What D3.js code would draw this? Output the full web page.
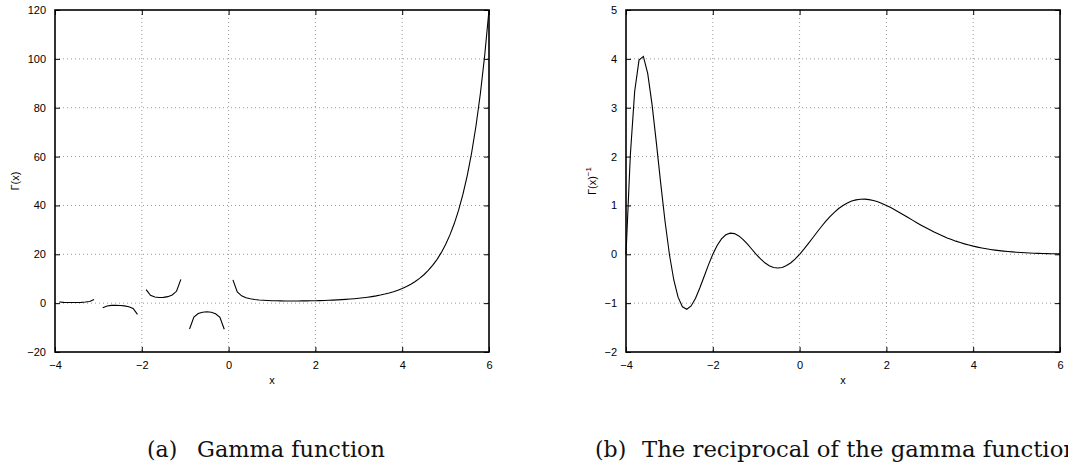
<!DOCTYPE html>
<html>
<head>
<meta charset="utf-8">
<style>
  body { margin: 0; background: #fff; }
  svg { display: block; }
  .tick text { font-family: "Liberation Sans", Arial, sans-serif; font-size: 11px; fill: #000; }
  .lab { font-family: "Liberation Sans", Arial, sans-serif; font-size: 11px; fill: #000; }
  .cap { font-family: "DejaVu Serif", "Liberation Serif", serif; font-size: 22px; fill: #111; }
</style>
<script src="https://cdn.jsdelivr.net/npm/d3@7"></script>
</head>
<body>
<svg id="fig" width="1068" height="468"></svg>
<script>
// sample points x = -4 : 0.1 : 6
var xs = [-4,-3.9,-3.8,-3.7,-3.6,-3.5,-3.4,-3.3,-3.2,-3.1,
  -3,-2.9,-2.8,-2.7,-2.6,-2.5,-2.4,-2.3,-2.2,-2.1,
  -2,-1.9,-1.8,-1.7,-1.6,-1.5,-1.4,-1.3,-1.2,-1.1,
  -1,-0.9,-0.8,-0.7,-0.6,-0.5,-0.4,-0.3,-0.2,-0.1,
  0,0.1,0.2,0.3,0.4,0.5,0.6,0.7,0.8,0.9,
  1,1.1,1.2,1.3,1.4,1.5,1.6,1.7,1.8,1.9,
  2,2.1,2.2,2.3,2.4,2.5,2.6,2.7,2.8,2.9,
  3,3.1,3.2,3.3,3.4,3.5,3.6,3.7,3.8,3.9,
  4,4.1,4.2,4.3,4.4,4.5,4.6,4.7,4.8,4.9,
  5,5.1,5.2,5.3,5.4,5.5,5.6,5.7,5.8,5.9,6];

// gamma(x) values, null at the poles (curve breaks there)
var gammaVals = [null,0.492,0.2996,0.2516,0.2469,0.2701,0.3259,0.4385,0.6891,1.4923,
  null,-1.9186,-1.1386,-0.9311,-0.8889,-0.9453,-1.108,-1.447,-2.205,-4.626,
  null,5.564,3.188,2.514,2.311,2.3633,2.659,3.328,4.851,9.715,
  null,-10.571,-5.739,-4.274,-3.697,-3.5449,-3.723,-4.327,-5.821,-10.686,
  null,9.5135,4.5908,2.9916,2.2182,1.7725,1.4892,1.2981,1.1642,1.0686,
  1,0.9514,0.9182,0.8975,0.8873,0.8862,0.8935,0.9086,0.9314,0.9618,
  1,1.0465,1.1018,1.1667,1.2422,1.3293,1.4296,1.5446,1.6765,1.8274,
  2,2.1976,2.424,2.6834,2.9813,3.3234,3.717,4.1704,4.6942,5.2995,
  6,6.8126,7.7568,8.8552,10.136,11.632,13.381,15.431,17.838,20.668,
  24,27.932,32.579,38.077,44.599,52.343,61.553,72.527,85.622,101.27,120];

// 1/gamma(x) values
var recipVals = [0,2.033,3.338,3.975,4.05,3.702,3.068,2.28,1.451,0.67,
  0,-0.521,-0.878,-1.074,-1.125,-1.058,-0.903,-0.691,-0.454,-0.216,
  0,0.18,0.314,0.398,0.433,0.423,0.376,0.3,0.206,0.103,
  0,-0.0946,-0.174,-0.234,-0.27,-0.282,-0.269,-0.231,-0.172,-0.0936,
  0,0.105,0.218,0.334,0.451,0.564,0.672,0.77,0.859,0.936,
  1,1.051,1.089,1.114,1.127,1.128,1.119,1.101,1.074,1.04,
  1,0.956,0.908,0.857,0.805,0.752,0.699,0.647,0.596,0.547,
  0.5,0.455,0.413,0.373,0.335,0.301,0.269,0.24,0.213,0.189,
  0.1667,0.1468,0.1289,0.1129,0.0987,0.086,0.0747,0.0648,0.0561,0.0484,
  0.0417,0.0358,0.0307,0.0263,0.0224,0.0191,0.0162,0.0138,0.0117,0.0099,0.0083];

var xTicks = [-4,-2,0,2,4,6];
var yTicksA = [-20,0,20,40,60,80,100,120];
var yTicksB = [-2,-1,0,1,2,3,4,5];

var svg = d3.select("#fig");
var minus = function(d){ return String(d).replace("-", "\u2212"); };

function panel(left, right, top, bottom, yDomain, yTicks, vals) {
  var x = d3.scaleLinear().domain([-4, 6]).range([left, right]);
  var y = d3.scaleLinear().domain(yDomain).range([bottom, top]);
  var g = svg.append("g");

  // dotted grid
  g.selectAll(".gx").data(xTicks.slice(1, -1)).enter().append("line")
    .attr("x1", x).attr("x2", x).attr("y1", top).attr("y2", bottom)
    .attr("stroke", "#999").attr("stroke-width", 1).attr("stroke-dasharray", "1,3");
  g.selectAll(".gy").data(yTicks.slice(1, -1)).enter().append("line")
    .attr("y1", y).attr("y2", y).attr("x1", left).attr("x2", right)
    .attr("stroke", "#999").attr("stroke-width", 1).attr("stroke-dasharray", "1,3");

  // axes with inward ticks on all sides
  g.append("g").attr("transform", "translate(0," + bottom + ")")
    .call(d3.axisBottom(x).tickValues(xTicks).tickSizeInner(-5).tickSizeOuter(0).tickPadding(9).tickFormat(minus));
  g.append("g").attr("transform", "translate(0," + top + ")")
    .call(d3.axisTop(x).tickValues(xTicks).tickSizeInner(-5).tickSizeOuter(0).tickFormat(""));
  g.append("g").attr("transform", "translate(" + left + ",0)")
    .call(d3.axisLeft(y).tickValues(yTicks).tickSizeInner(-5).tickSizeOuter(0).tickPadding(9).tickFormat(minus));
  g.append("g").attr("transform", "translate(" + right + ",0)")
    .call(d3.axisRight(y).tickValues(yTicks).tickSizeInner(-5).tickSizeOuter(0).tickFormat(""));
  g.selectAll(".domain").remove();
  g.selectAll(".tick line").attr("stroke", "#000");
  g.selectAll(".tick text").attr("fill", "#000");

  g.append("rect").attr("x", left).attr("y", top)
    .attr("width", right - left).attr("height", bottom - top)
    .attr("fill", "none").attr("stroke", "#000").attr("stroke-width", 1.6);

  var line = d3.line()
    .defined(function(d, i){ return vals[i] !== null; })
    .x(function(d){ return x(d); })
    .y(function(d, i){ return y(vals[i]); });
  g.append("path").datum(xs).attr("d", line)
    .attr("fill", "none").attr("stroke", "#000").attr("stroke-width", 1.1);

  g.append("text").attr("class", "lab").attr("x", (left + right) / 2)
    .attr("y", 384).attr("text-anchor", "middle").text("x");
  return g;
}

var ga = panel(55, 489, 10, 352, [-20, 120], yTicksA, gammaVals);
ga.append("text").attr("class", "lab")
  .attr("transform", "translate(19,181) rotate(-90)")
  .attr("text-anchor", "middle").text("\u0393(x)");

var gb = panel(626, 1060, 10, 352, [-2, 5], yTicksB, recipVals);
var yl = gb.append("text").attr("class", "lab")
  .attr("transform", "translate(596,181) rotate(-90)")
  .attr("text-anchor", "middle");
yl.append("tspan").text("\u0393(x)");
yl.append("tspan").attr("dy", -5).attr("font-size", "8px").text("\u22121");

// sub-captions
svg.append("text").attr("class", "cap").attr("x", 147).attr("y", 457).text("(a)");
svg.append("text").attr("class", "cap").attr("x", 197).attr("y", 457)
  .attr("textLength", 188).attr("lengthAdjust", "spacingAndGlyphs").text("Gamma function");
svg.append("text").attr("class", "cap").attr("x", 595).attr("y", 457).text("(b)");
svg.append("text").attr("class", "cap").attr("x", 642).attr("y", 457)
  .attr("textLength", 436).attr("lengthAdjust", "spacingAndGlyphs").text("The reciprocal of the gamma function");
</script>
</body>
</html>
